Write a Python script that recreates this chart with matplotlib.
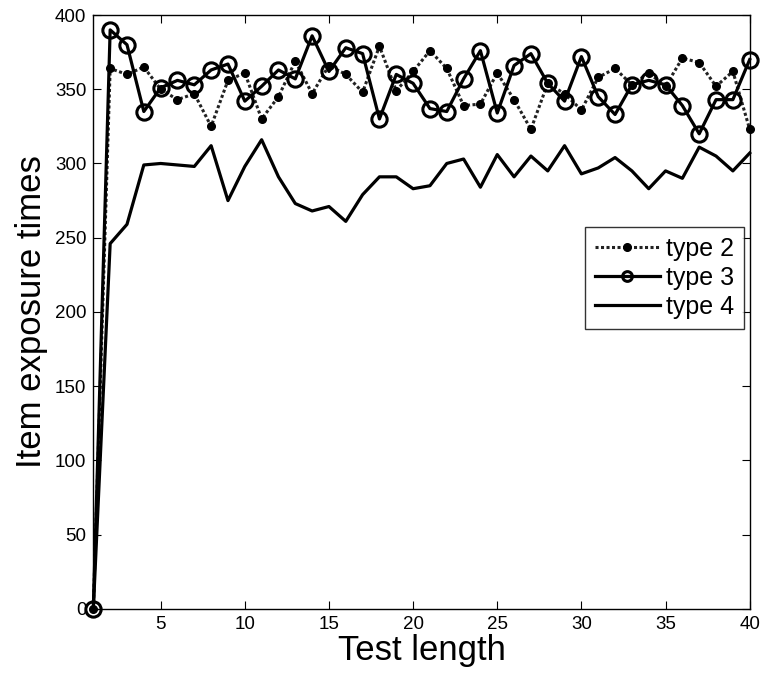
import matplotlib
matplotlib.use("Agg")
import matplotlib.pyplot as plt
import numpy as np

plt.rcParams['font.family'] = ['Liberation Sans', 'DejaVu Sans']

test_length = list(range(1, 41))

type2 = [0, 364, 360, 365, 350, 343, 347, 325, 356, 361,
         330, 345, 369, 347, 366, 360, 348, 379, 349, 362,
         376, 364, 339, 340, 361, 343, 323, 354, 347, 336,
         358, 364, 353, 361, 352, 371, 368, 352, 362, 323]

type3 = [0, 390, 380, 335, 351, 356, 353, 363, 367, 342,
         352, 363, 357, 386, 362, 378, 374, 330, 360, 354,
         337, 335, 357, 376, 334, 366, 374, 354, 342, 372,
         345, 333, 353, 356, 353, 339, 320, 343, 343, 370]

type4 = [0, 246, 259, 299, 300, 299, 298, 312, 275, 298,
         316, 291, 273, 268, 271, 261, 279, 291, 291, 283,
         285, 300, 303, 284, 306, 291, 305, 295, 312, 293,
         297, 304, 295, 283, 295, 290, 311, 305, 295, 307]

fig = plt.figure(figsize=(7.65, 6.84), dpi=100)
ax = fig.add_axes([0.122, 0.110, 0.858, 0.868])

ax.plot(test_length, type2, linestyle=(0, (1, 0.8)), color='#222222', linewidth=2.2,
        marker='o', markersize=5.5, markerfacecolor='black', markeredgecolor='black',
        label='type 2', clip_on=False, zorder=3)
ax.plot(test_length, type3, linestyle='-', color='black', linewidth=2.3,
        marker='o', markersize=11, markerfacecolor='none', markeredgecolor='black',
        markeredgewidth=2.2, label='type 3', clip_on=False, zorder=4)
ax.plot(test_length, type4, linestyle='-', color='black', linewidth=2.3,
        label='type 4', clip_on=False, zorder=5)

ax.set_xlim(1, 40)
ax.set_ylim(0, 400)
ax.set_xticks([5, 10, 15, 20, 25, 30, 35, 40])
ax.set_yticks(np.arange(0, 401, 50))
ax.tick_params(direction='in', top=True, right=True, labelsize=13.5, length=6, width=0.8,
               pad=5)
for s in ax.spines.values():
    s.set_linewidth(1.0)

ax.set_xlabel('Test length', fontsize=25, labelpad=1)
ax.set_ylabel('Item exposure times', fontsize=25, labelpad=5)

leg = ax.legend(loc='upper left', bbox_to_anchor=(0.749, 0.643), fontsize=18,
                frameon=True, fancybox=False, edgecolor='black', handlelength=2.6,
                borderpad=0.4, labelspacing=0.2, handletextpad=0.25, borderaxespad=0)
leg.get_frame().set_linewidth(1.0)
leg.legend_handles[1].set_markersize(7)

fig.savefig('out.png', dpi=100, facecolor='white')
